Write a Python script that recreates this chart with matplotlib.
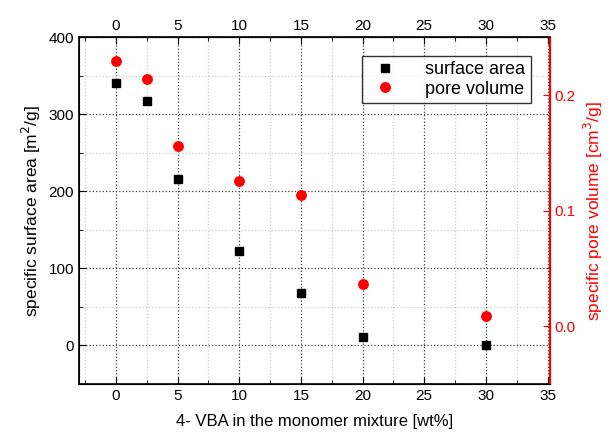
import numpy as np
import matplotlib
matplotlib.use("Agg")
import matplotlib.pyplot as plt
from matplotlib.ticker import MultipleLocator

plt.rcParams["font.family"] = ["Liberation Sans", "DejaVu Sans"]

vba = [0, 2.5, 5, 10, 15, 20, 30]
surface_area = [341, 317, 216, 123, 68, 11, 0]
pore_volume = [0.230, 0.214, 0.156, 0.126, 0.114, 0.037, 0.009]

fig = plt.figure(figsize=(6.1, 4.38), dpi=100)
ax = fig.add_axes([0.1295, 0.1233, 0.7721, 0.7911])
ax2 = ax.twinx()

h1, = ax.plot(vba, surface_area, ls="none", marker="s", ms=6, color="black",
              label="surface area", zorder=3)
h2, = ax2.plot(vba, pore_volume, ls="none", marker="o", ms=6.8, color="red",
               mec="red", label="pore volume", zorder=3)

ax.set_xlim(-3, 35.2)
ax.set_ylim(-50, 400)
ax2.set_ylim(-0.05, 0.25)

ax.xaxis.set_major_locator(MultipleLocator(5))
ax.xaxis.set_minor_locator(MultipleLocator(2.5))
ax.yaxis.set_major_locator(MultipleLocator(100))
ax.yaxis.set_minor_locator(MultipleLocator(50))
ax2.yaxis.set_major_locator(MultipleLocator(0.1))
ax2.yaxis.set_minor_locator(MultipleLocator(0.05))
ax2.yaxis.set_major_formatter(plt.FuncFormatter(lambda v, p: f"{v:.1f}"))

ax.grid(which="major", ls=":", color="0.25", lw=0.9)
ax.grid(which="minor", ls=":", color="0.8", lw=0.9)
ax.set_axisbelow(True)

ax.tick_params(which="both", direction="in", top=True, labeltop=True,
               labelsize=11, right=False)
ax.tick_params(which="major", length=5)
ax.tick_params(which="minor", length=3)
ax2.tick_params(which="both", direction="in", colors="red", labelsize=11)
ax2.tick_params(which="major", length=5)
ax2.tick_params(which="minor", length=3)
ax2.spines["right"].set_color("red")
ax2.spines["right"].set_linewidth(1.5)
for s in ["left", "bottom", "top"]:
    ax.spines[s].set_linewidth(1.2)

ax.set_xlabel("4- VBA in the monomer mixture [wt%]", fontsize=12, labelpad=8)
ax.set_ylabel("specific surface area [m$^2$/g]", fontsize=12.5)
ax2.set_ylabel("specific pore volume [cm$^3$/g]", fontsize=12.5, color="red")

leg = ax2.legend(handles=[h1, h2], loc="upper right", bbox_to_anchor=(0.978, 0.974),
                 fontsize=13, frameon=True, fancybox=False, edgecolor="black",
                 handletextpad=1.2, borderpad=0.3, labelspacing=0.15)
leg.get_frame().set_linewidth(1.0)

fig.savefig("out.png", dpi=100)
